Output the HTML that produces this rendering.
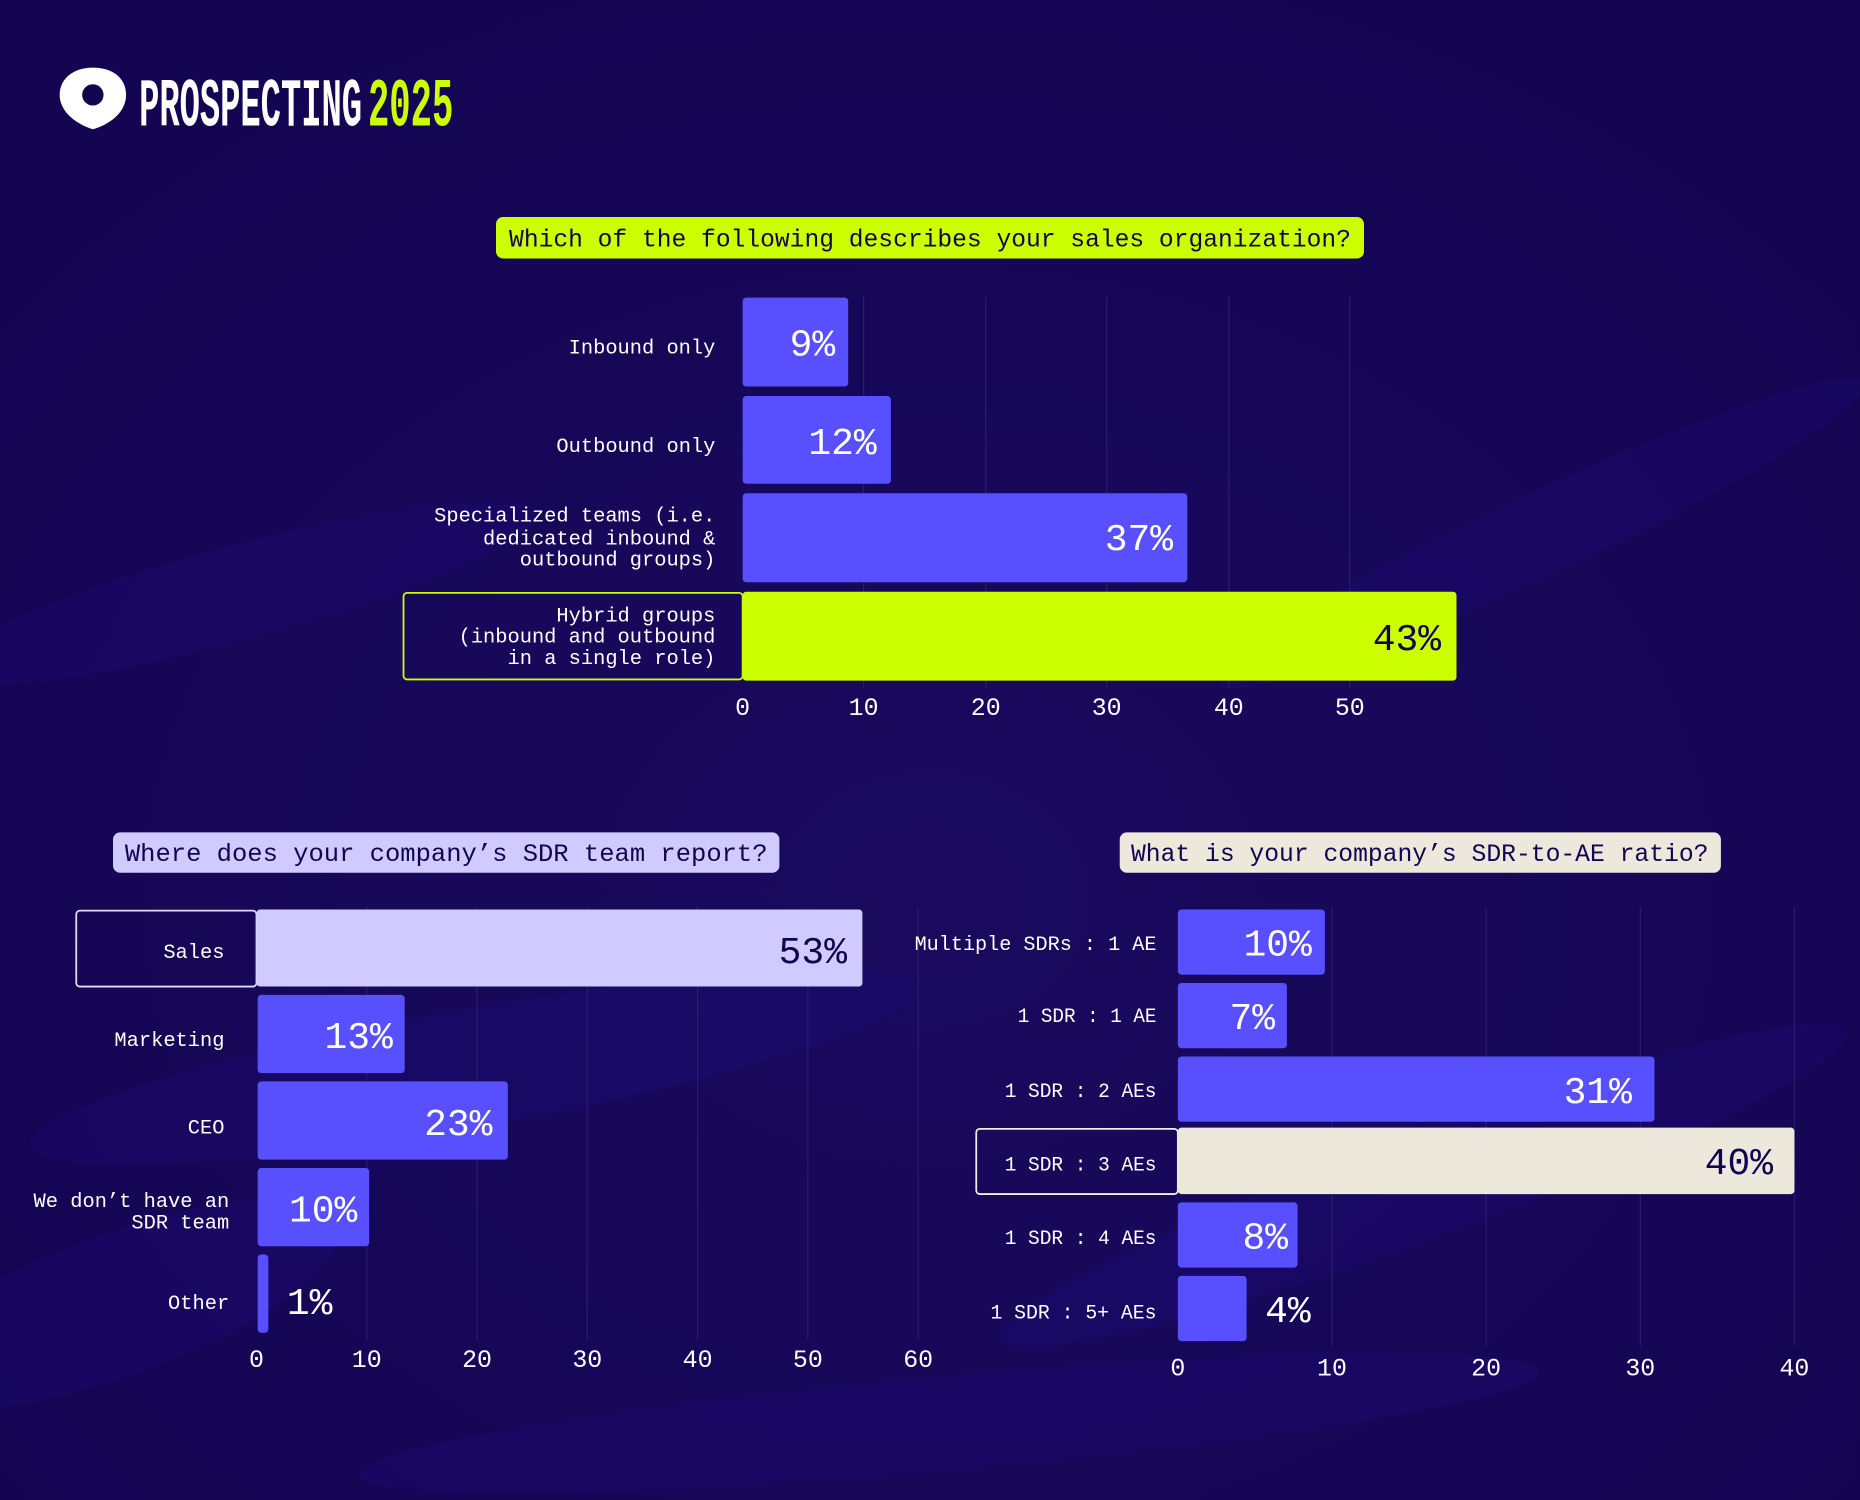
<!DOCTYPE html>
<html><head><meta charset="utf-8"><style>
html,body{margin:0;padding:0;background:#13044f;}
svg{display:block}
text{font-family:"Liberation Mono",monospace;}
</style></head><body>
<svg width="1860" height="1500" viewBox="0 0 1568 1265" xmlns="http://www.w3.org/2000/svg">
<defs>
<radialGradient id="bg" cx="0.5" cy="0.6" r="0.8">
<stop offset="0" stop-color="#190a5e"/><stop offset="1" stop-color="#130450"/>
</radialGradient>
</defs>
<rect width="1568" height="1265" fill="url(#bg)"/>
<g fill="#22159a" opacity="0.18">
<ellipse cx="200" cy="500" rx="260" ry="40" transform="rotate(-15 200 500)"/>
<ellipse cx="1300" cy="450" rx="300" ry="35" transform="rotate(-25 1300 450)"/>
<ellipse cx="400" cy="900" rx="380" ry="50" transform="rotate(-10 400 900)"/>
<ellipse cx="1200" cy="1000" rx="380" ry="45" transform="rotate(-20 1200 1000)"/>
<ellipse cx="800" cy="1200" rx="500" ry="40" transform="rotate(-5 800 1200)"/>
<ellipse cx="100" cy="1100" rx="200" ry="60" transform="rotate(-20 100 1100)"/>
</g>

<!-- logo -->
<path d="M78 57 C95 57 106 66 106 80 C106 93 95 104 78 109 C62 104 50 93 50 80 C50 66 62 57 78 57 Z" fill="#fff"/>
<circle cx="78" cy="80" r="9" fill="#13044f"/>
<text x="117" y="106" font-family="Liberation Sans Narrow,Liberation Sans,sans-serif" font-weight="bold" font-size="58" fill="#fff" textLength="188" lengthAdjust="spacingAndGlyphs">PROSPECTING</text>
<text x="310" y="106" font-family="Liberation Sans Narrow,Liberation Sans,sans-serif" font-weight="bold" font-size="58" fill="#ccff00" textLength="72" lengthAdjust="spacingAndGlyphs">2025</text>

<!-- Chart 1 -->
<rect x="418" y="183" width="732" height="35" rx="6" fill="#ccff00"/>
<text x="784" y="208" font-size="21" fill="#13044f" text-anchor="middle" textLength="710" lengthAdjust="spacingAndGlyphs">Which of the following describes your sales organization?</text>
<g stroke="#2a1d6c" stroke-width="1">
<line x1="728" y1="250" x2="728" y2="580"/><line x1="831" y1="250" x2="831" y2="580"/>
<line x1="933" y1="250" x2="933" y2="580"/><line x1="1036" y1="250" x2="1036" y2="580"/>
<line x1="1138" y1="250" x2="1138" y2="580"/>
</g>
<rect x="340" y="500" width="286" height="73" rx="3" fill="none" stroke="#ccff00" stroke-width="1.5"/>
<rect x="626" y="251" width="89" height="75" rx="3" fill="#5850ff"/>
<rect x="626" y="334" width="125" height="74" rx="3" fill="#5850ff"/>
<rect x="626" y="416" width="375" height="75" rx="3" fill="#5850ff"/>
<rect x="626" y="499" width="602" height="75" rx="3" fill="#ccff00"/>
<g font-size="32" text-anchor="end">
<text x="704" y="300" fill="#fff">9%</text>
<text x="739" y="383" fill="#fff">12%</text>
<text x="989" y="464" fill="#fff">37%</text>
<text x="1215" y="548" fill="#13044f">43%</text>
</g>
<g font-size="17.2" fill="#fff" text-anchor="end">
<text x="603" y="298">Inbound only</text>
<text x="603" y="381">Outbound only</text>
<text x="603" y="440">Specialized teams (i.e.</text>
<text x="603" y="459">dedicated inbound &amp;</text>
<text x="603" y="477">outbound groups)</text>
<text x="603" y="524">Hybrid groups</text>
<text x="603" y="542">(inbound and outbound</text>
<text x="603" y="560">in a single role)</text>
</g>
<g font-size="21" fill="#fff" text-anchor="middle">
<text x="626" y="603">0</text><text x="728" y="603">10</text><text x="831" y="603">20</text>
<text x="933" y="603">30</text><text x="1036" y="603">40</text><text x="1138" y="603">50</text>
</g>

<!-- Chart 2 -->
<rect x="95" y="702" width="562" height="34" rx="6" fill="#cfcbff"/>
<text x="376" y="726" font-size="21" fill="#13044f" text-anchor="middle" textLength="542" lengthAdjust="spacingAndGlyphs">Where does your company’s SDR team report?</text>
<g stroke="#2a1d6c" stroke-width="1">
<line x1="309" y1="765" x2="309" y2="1130"/><line x1="402" y1="765" x2="402" y2="1130"/>
<line x1="495" y1="765" x2="495" y2="1130"/><line x1="588" y1="765" x2="588" y2="1130"/>
<line x1="681" y1="765" x2="681" y2="1130"/><line x1="774" y1="765" x2="774" y2="1130"/>
</g>
<rect x="64" y="768" width="152" height="64" rx="3" fill="none" stroke="#e0ddff" stroke-width="1.5"/>
<rect x="216" y="767" width="511" height="65" rx="3" fill="#cfcbff"/>
<rect x="217" y="839" width="124" height="66" rx="3" fill="#5850ff"/>
<rect x="217" y="912" width="211" height="66" rx="3" fill="#5850ff"/>
<rect x="217" y="985" width="94" height="66" rx="3" fill="#5850ff"/>
<rect x="217" y="1058" width="9" height="66" rx="3" fill="#5850ff"/>
<g font-size="32" text-anchor="end">
<text x="714" y="812" fill="#13044f">53%</text>
<text x="331" y="884" fill="#fff">13%</text>
<text x="415" y="957" fill="#fff">23%</text>
<text x="301" y="1030" fill="#fff">10%</text>
<text x="280" y="1108" fill="#fff">1%</text>
</g>
<g font-size="17.2" fill="#fff" text-anchor="end">
<text x="189" y="808">Sales</text>
<text x="189" y="882">Marketing</text>
<text x="189" y="956">CEO</text>
<text x="193" y="1018">We don’t have an</text>
<text x="193" y="1036">SDR team</text>
<text x="193" y="1104">Other</text>
</g>
<g font-size="21" fill="#fff" text-anchor="middle">
<text x="216" y="1153">0</text><text x="309" y="1153">10</text><text x="402" y="1153">20</text>
<text x="495" y="1153">30</text><text x="588" y="1153">40</text><text x="681" y="1153">50</text><text x="774" y="1153">60</text>
</g>

<!-- Chart 3 -->
<rect x="944" y="702" width="507" height="34" rx="6" fill="#ece8dc"/>
<text x="1197" y="726" font-size="21" fill="#13044f" text-anchor="middle" textLength="487" lengthAdjust="spacingAndGlyphs">What is your company’s SDR-to-AE ratio?</text>
<g stroke="#2a1d6c" stroke-width="1">
<line x1="1123" y1="765" x2="1123" y2="1135"/><line x1="1253" y1="765" x2="1253" y2="1135"/>
<line x1="1383" y1="765" x2="1383" y2="1135"/><line x1="1513" y1="765" x2="1513" y2="1135"/>
</g>
<rect x="823" y="952" width="170" height="55" rx="3" fill="none" stroke="#f0ede4" stroke-width="1.5"/>
<rect x="993" y="767" width="124" height="55" rx="3" fill="#5850ff"/>
<rect x="993" y="829" width="92" height="55" rx="3" fill="#5850ff"/>
<rect x="993" y="891" width="402" height="55" rx="3" fill="#5850ff"/>
<rect x="993" y="951" width="520" height="56" rx="3" fill="#ece8dc"/>
<rect x="993" y="1014" width="101" height="55" rx="3" fill="#5850ff"/>
<rect x="993" y="1076" width="58" height="55" rx="3" fill="#5850ff"/>
<g font-size="32" text-anchor="end">
<text x="1106" y="806" fill="#fff">10%</text>
<text x="1075" y="868" fill="#fff">7%</text>
<text x="1376" y="930" fill="#fff">31%</text>
<text x="1495" y="990" fill="#13044f">40%</text>
<text x="1086" y="1053" fill="#fff">8%</text>
<text x="1105" y="1115" fill="#fff">4%</text>
</g>
<g font-size="17.2" fill="#fff" text-anchor="end" lengthAdjust="spacingAndGlyphs">
<text x="975" y="801" textLength="204" lengthAdjust="spacingAndGlyphs">Multiple SDRs : 1 AE</text>
<text x="975" y="862" textLength="117" lengthAdjust="spacingAndGlyphs">1 SDR : 1 AE</text>
<text x="975" y="925" textLength="128" lengthAdjust="spacingAndGlyphs">1 SDR : 2 AEs</text>
<text x="975" y="987" textLength="128" lengthAdjust="spacingAndGlyphs">1 SDR : 3 AEs</text>
<text x="975" y="1049" textLength="128" lengthAdjust="spacingAndGlyphs">1 SDR : 4 AEs</text>
<text x="975" y="1112" textLength="140" lengthAdjust="spacingAndGlyphs">1 SDR : 5+ AEs</text>
</g>
<g font-size="21" fill="#fff" text-anchor="middle">
<text x="993" y="1160">0</text><text x="1123" y="1160">10</text><text x="1253" y="1160">20</text>
<text x="1383" y="1160">30</text><text x="1513" y="1160">40</text>
</g>
</svg>
</body></html>
